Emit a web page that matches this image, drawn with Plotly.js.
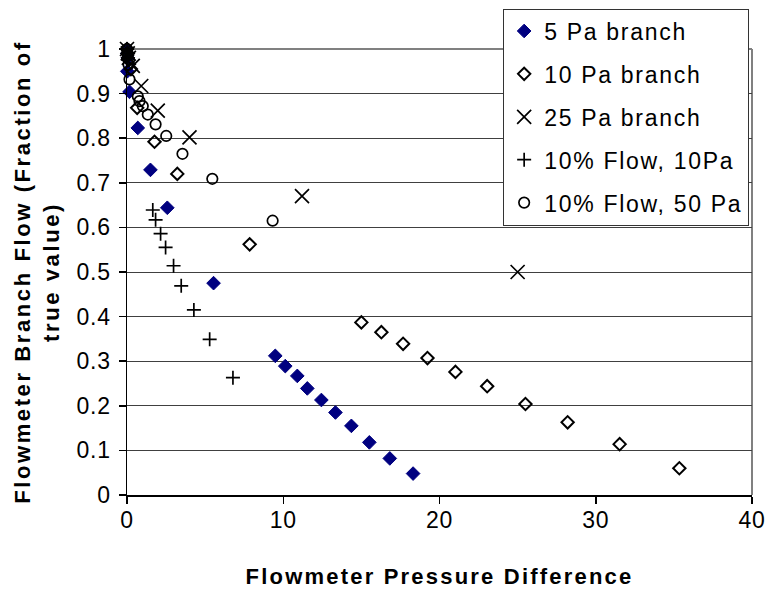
<!DOCTYPE html>
<html>
<head>
<meta charset="utf-8">
<script src="https://cdn.plot.ly/plotly-3.0.1.min.js"></script>
<style>
  html, body { margin: 0; padding: 0; background: #fff; }
  #chart { width: 767px; height: 592px; }
  text.legendtext { letter-spacing: 1.7px; }
  text.xtitle, text.xtitle tspan { letter-spacing: 2.2px; }
  text.ytitle, text.ytitle tspan { letter-spacing: 2.6px; }
  g.xtick text, g.ytick text { letter-spacing: 0.8px; }
</style>
</head>
<body>
<div id="chart"></div>
<script>
// ---- data ----
const fivePaX = [0, 0.02, 0.05, 0.02, 0.16, 0.69, 1.5, 2.58, 5.54, 9.49, 10.13, 10.90, 11.54, 12.44, 13.34, 14.36, 15.51, 16.82, 18.31];
const fivePaY = [1.0, 0.99, 0.98, 0.95, 0.904, 0.823, 0.729, 0.644, 0.475, 0.312, 0.289, 0.267, 0.239, 0.213, 0.185, 0.155, 0.118, 0.082, 0.048];

const tenPaX = [0, 0.05, 0.12, 0.25, 0.65, 1.76, 3.22, 7.85, 15.0, 16.28, 17.67, 19.23, 21.02, 23.05, 25.50, 28.2, 31.53, 35.35];
const tenPaY = [1.0, 0.99, 0.975, 0.955, 0.868, 0.792, 0.720, 0.562, 0.387, 0.365, 0.339, 0.307, 0.276, 0.244, 0.204, 0.163, 0.114, 0.060];

const twentyFivePaX = [0, 0.05, 0.12, 0.37, 0.91, 1.97, 4.00, 11.2, 25.0];
const twentyFivePaY = [1.0, 0.99, 0.98, 0.962, 0.917, 0.862, 0.802, 0.670, 0.500];

const flow10PaX = [0, 0.03, 0.06, 1.65, 1.83, 2.15, 2.47, 2.98, 3.47, 4.28, 5.29, 6.78];
const flow10PaY = [1.0, 0.99, 0.98, 0.639, 0.617, 0.586, 0.555, 0.514, 0.469, 0.415, 0.349, 0.263];

const flow50PaX = [0, 0.05, 0.1, 0.16, 0.69, 0.80, 1.01, 1.33, 1.83, 2.51, 3.55, 5.46, 9.32];
const flow50PaY = [1.0, 0.985, 0.965, 0.932, 0.894, 0.883, 0.872, 0.853, 0.831, 0.805, 0.765, 0.709, 0.615];

const seriesNames = ['5 Pa branch', '10 Pa branch', '25 Pa branch', '10% Flow, 10Pa', '10% Flow, 50 Pa'];
const xTickVals = [0, 10, 20, 30, 40];
const yTickVals = [0, 0.1, 0.2, 0.3, 0.4, 0.5, 0.6, 0.7, 0.8, 0.9, 1];

const FONT = '"Liberation Sans", Arial, sans-serif';

function tr(x, y, name, marker, g) {
  return {
    type: 'scatter', mode: 'markers', x: x, y: y, name: name,
    marker: marker, cliponaxis: false, legendgroup: g, showlegend: true
  };
}

const traces = [
  tr(fivePaX, fivePaY, seriesNames[0], {symbol: 'diamond', size: 10.5, color: '#000080', line: {color: '#000080', width: 1}}, 'a'),
  tr(tenPaX, tenPaY, seriesNames[1], {symbol: 'diamond-open', size: 9.5, color: '#000000', line: {color: '#000000', width: 2}}, 'b'),
  tr(twentyFivePaX, twentyFivePaY, seriesNames[2], {symbol: 'x-thin-open', size: 14, color: '#000000', line: {color: '#000000', width: 1.7}}, 'c'),
  tr(flow10PaX, flow10PaY, seriesNames[3], {symbol: 'cross-thin-open', size: 10, color: '#000000', line: {color: '#000000', width: 1.7}}, 'd'),
  tr(flow50PaX, flow50PaY, seriesNames[4], {symbol: 'circle-open', size: 10.5, color: '#000000', line: {color: '#000000', width: 1.7}}, 'e')
];

const layout = {
  width: 767, height: 592,
  margin: {l: 127, r: 15, t: 49, b: 97, autoexpand: false},
  paper_bgcolor: '#ffffff', plot_bgcolor: '#ffffff',
  font: {family: FONT, size: 23, color: '#000'},
  showlegend: true,
  legend: {
    xref: 'container', yref: 'container',
    x: 0.656, xanchor: 'left', y: 0.9856, yanchor: 'top',
    bgcolor: '#ffffff', bordercolor: '#333333', borderwidth: 1,
    font: {family: FONT, size: 23, color: '#000'},
    traceorder: 'grouped', tracegroupgap: 10
  },
  xaxis: {
    range: [0, 40], tickvals: xTickVals, ticks: 'outside', ticklen: 7, tickcolor: '#000', tickwidth: 1.5,
    showgrid: false, zeroline: false, showline: true, linecolor: '#000', linewidth: 1.5,
    tickfont: {family: FONT, size: 23}, ticklabelstandoff: -3, fixedrange: true,
    title: {text: '<b>Flowmeter Pressure Difference</b>', font: {family: FONT, size: 22}, standoff: 36}
  },
  yaxis: {
    range: [0, 1], tickvals: yTickVals, ticks: 'outside', ticklen: 7, tickcolor: '#000', tickwidth: 1.5,
    showgrid: true, gridcolor: '#404040', gridwidth: 1,
    zeroline: false, showline: true, linecolor: '#000', linewidth: 1.5,
    tickfont: {family: FONT, size: 23}, ticklabelstandoff: 3, fixedrange: true,
    title: {text: '<b>Flowmeter Branch Flow (Fraction of<br>true value)</b>', font: {family: FONT, size: 22}, standoff: 11}
  },
  shapes: [
    {type: 'line', xref: 'paper', yref: 'paper', x0: 0, x1: 1, y0: 1, y1: 1, line: {color: '#808080', width: 2}, layer: 'below'},
    {type: 'line', xref: 'paper', yref: 'paper', x0: 1, x1: 1, y0: 0, y1: 1, line: {color: '#808080', width: 2}, layer: 'below'}
  ]
};

Plotly.newPlot('chart', traces, layout, {displayModeBar: false, staticPlot: true});
</script>
</body>
</html>
